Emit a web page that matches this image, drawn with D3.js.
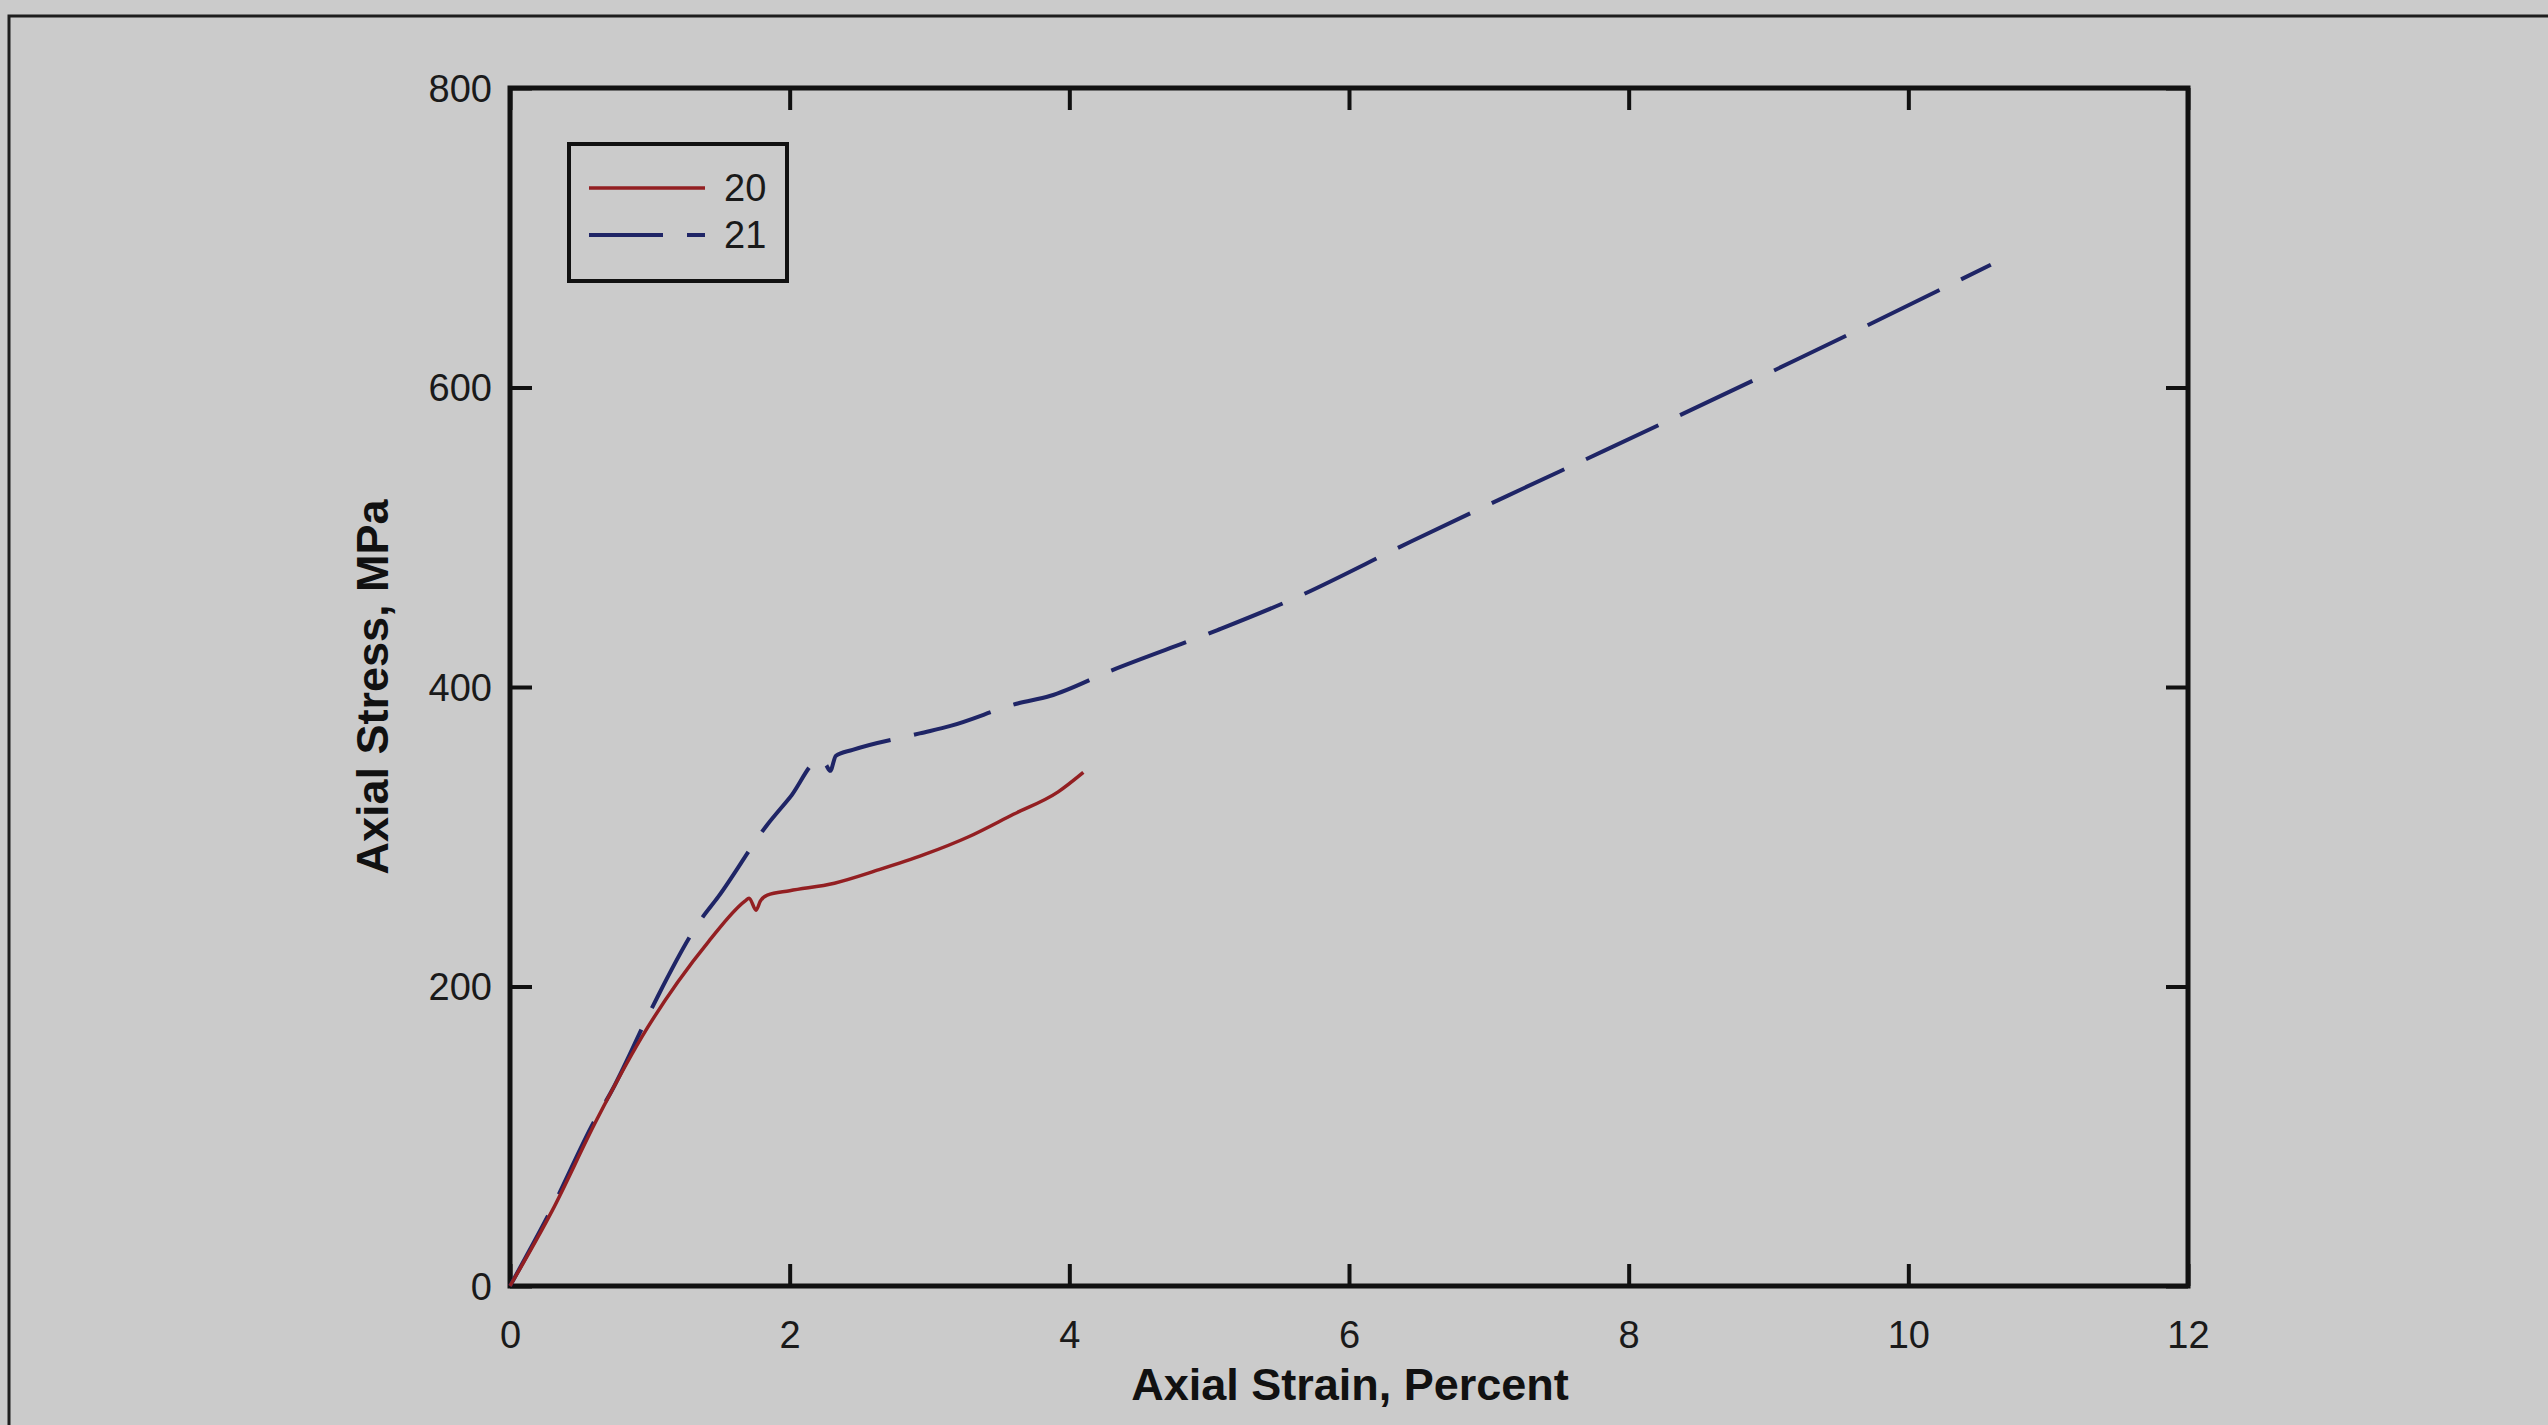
<!DOCTYPE html>
<html>
<head>
<meta charset="utf-8">
<script src="https://cdn.jsdelivr.net/npm/d3@7"></script>
<style>
  html, body { margin: 0; padding: 0; background: #cbcbcb; }
  svg { display: block; }
</style>
</head>
<body>
<script>
// ---- data ----
const seriesNames = ["20", "21"];
const strain20 = [0, 0.30, 0.62, 0.98, 1.20, 1.42, 1.68, 1.71, 1.76, 1.79, 1.84, 2.00, 2.32, 2.64, 2.96, 3.28, 3.60, 3.92, 4.10];
const stress20 = [0, 50, 111, 172, 203, 230, 257, 259, 251, 257, 261, 264, 269, 278, 288, 300, 315, 330, 343];
const strain21 = [0, 0.30, 0.62, 0.72, 0.98, 1.06, 1.36, 1.49, 1.84, 2.00, 2.22, 2.26, 2.29, 2.33, 2.45, 2.93, 3.15, 3.63, 3.86, 4.30, 5.06, 5.58, 6.44, 7.14, 7.83, 9.21, 10.59];
const stress21 = [0, 52, 113, 129, 179, 194, 244, 260, 308, 326, 352, 348, 344, 354, 358, 369, 374, 389, 394, 411, 438, 458, 497, 528, 558, 619, 682];
const xTickValues = [0, 2, 4, 6, 8, 10, 12];
const yTickValues = [0, 200, 400, 600, 800];
const xTitle = "Axial Strain, Percent";
const yTitle = "Axial Stress, MPa";

// ---- layout ----
const W = 2548, H = 1425;
const L = 510, R = 2188, T = 88, B = 1286;
const colors = {"20": "#931f22", "21": "#1f2566"};

const svg = d3.select("body").append("svg").attr("width", W).attr("height", H);
svg.append("rect").attr("width", W).attr("height", H).attr("fill", "#cbcbcb");

// outer page frame (left & top)
svg.append("path").attr("d", `M9,${H} L9,16 L${W},16`).attr("fill", "none")
  .attr("stroke", "#1e1e1e").attr("stroke-width", 3);

const x = d3.scaleLinear().domain([0, 12]).range([L, R]);
const y = d3.scaleLinear().domain([0, 800]).range([B, T]);

const font = "'Liberation Sans', Arial, sans-serif";

function styleAxis(g) {
  g.select(".domain").remove();
  g.selectAll(".tick line").attr("stroke", "#111").attr("stroke-width", 4);
}

// bottom axis
const gx = svg.append("g").attr("transform", `translate(0,${B})`)
  .call(d3.axisBottom(x).tickValues(xTickValues).tickSizeInner(-22).tickSizeOuter(0).tickPadding(0));
styleAxis(gx);
gx.selectAll(".tick text").attr("y", 49).attr("dy", "0.35em")
  .attr("font-family", font).attr("font-size", 38).attr("fill", "#1a1a1a");

// top axis
const gxt = svg.append("g").attr("transform", `translate(0,${T})`)
  .call(d3.axisTop(x).tickValues(xTickValues).tickSizeInner(-22).tickSizeOuter(0).tickFormat(""));
styleAxis(gxt);

// left axis
const gy = svg.append("g").attr("transform", `translate(${L},0)`)
  .call(d3.axisLeft(y).tickValues(yTickValues).tickSizeInner(-22).tickSizeOuter(0).tickPadding(0));
styleAxis(gy);
gy.selectAll(".tick text").attr("x", -18).attr("dy", "0.35em")
  .attr("font-family", font).attr("font-size", 38).attr("fill", "#1a1a1a");

// right axis
const gyr = svg.append("g").attr("transform", `translate(${R},0)`)
  .call(d3.axisRight(y).tickValues(yTickValues).tickSizeInner(-22).tickSizeOuter(0).tickFormat(""));
styleAxis(gyr);

// plot frame
svg.append("rect").attr("x", L).attr("y", T).attr("width", R - L).attr("height", B - T)
  .attr("fill", "none").attr("stroke", "#111").attr("stroke-width", 5);

// lines
const line = d3.line().x(d => x(d[0])).y(d => y(d[1])).curve(d3.curveMonotoneX);
const d20 = strain20.map((v, i) => [v, stress20[i]]);
const d21 = strain21.map((v, i) => [v, stress21[i]]);

svg.append("path").datum(d21).attr("d", line).attr("fill", "none")
  .attr("stroke", colors["21"]).attr("stroke-width", 4).attr("stroke-dasharray", "80,24")
  .attr("stroke-linejoin", "round");
svg.append("path").datum(d20).attr("d", line).attr("fill", "none")
  .attr("stroke", colors["20"]).attr("stroke-width", 3.5).attr("stroke-linejoin", "round");

// legend
const lg = svg.append("g");
lg.append("rect").attr("x", 569).attr("y", 144).attr("width", 218).attr("height", 137)
  .attr("fill", "none").attr("stroke", "#111").attr("stroke-width", 4);
const legendY = [188, 235];
seriesNames.forEach((name, i) => {
  lg.append("line").attr("x1", 589).attr("x2", 705).attr("y1", legendY[i]).attr("y2", legendY[i])
    .attr("stroke", colors[name]).attr("stroke-width", i === 0 ? 3.5 : 4)
    .attr("stroke-dasharray", i === 0 ? null : "74,24");
  lg.append("text").attr("x", 724).attr("y", legendY[i]).attr("dy", "0.35em")
    .attr("font-family", font).attr("font-size", 38).attr("fill", "#1a1a1a").text(name);
});

// titles
svg.append("text").attr("x", 1350).attr("y", 1384).attr("dy", "0.35em").attr("text-anchor", "middle")
  .attr("font-family", font).attr("font-weight", "bold").attr("font-size", 45).attr("fill", "#111")
  .text(xTitle);
svg.append("text").attr("transform", "translate(372,687) rotate(-90)").attr("dy", "0.35em")
  .attr("text-anchor", "middle").attr("font-family", font).attr("font-weight", "bold")
  .attr("font-size", 45).attr("fill", "#111").text(yTitle);
</script>
</body>
</html>
